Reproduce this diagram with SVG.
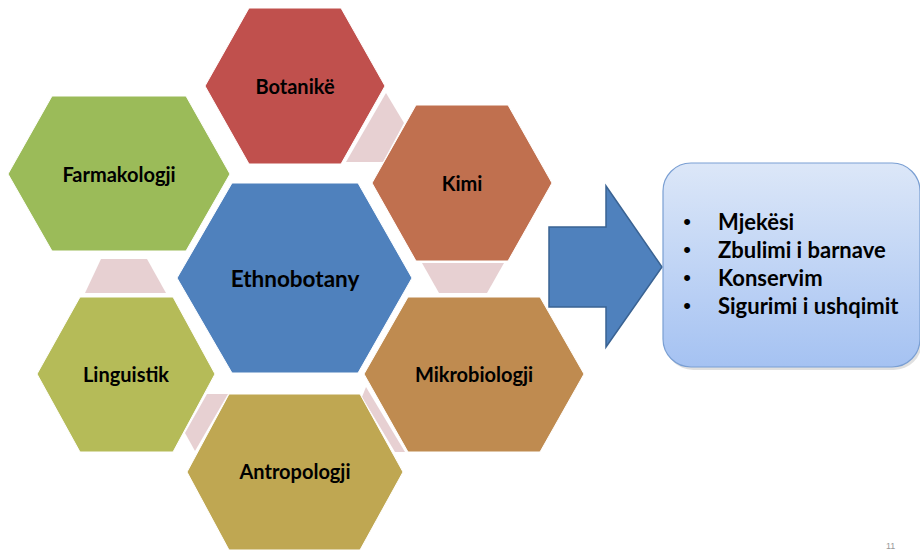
<svg xmlns="http://www.w3.org/2000/svg" width="920" height="550" viewBox="0 0 920 550">
<defs>
<linearGradient id="boxGrad" x1="0" y1="0" x2="0" y2="1">
<stop offset="0" stop-color="#DCE7F8"/>
<stop offset="1" stop-color="#A5C2F2"/>
</linearGradient>
</defs>
<style>
.lbl{font-family:Lato,"Liberation Sans",sans-serif;font-weight:bold;font-size:20px;fill:#000;text-anchor:middle;dominant-baseline:central}
.big{font-size:22.5px}
.conn{fill:#E7D0D2}
.hex{stroke:#fff;stroke-width:1}
.item{font-family:Lato,"Liberation Sans",sans-serif;font-weight:bold;font-size:22px;fill:#000}
.bul{font-family:"Liberation Sans",sans-serif;font-size:22px;fill:#000;text-anchor:middle}
</style>
<rect width="920" height="550" fill="#fff"/>
<g id="connectors">
<polygon class="conn" points="386,93 404,123 383,162 346,162"/>
<polygon class="conn" points="422,263 504,263 487,293 439,293"/>
<polygon class="conn" points="101,259 147,259 166,293 85,293"/>
<polygon class="conn" points="207,394 228,394 195,451 185,433"/>
<polygon class="conn" points="366,387 405,452 395,452 362,397"/>
<polygon id="arrow" points="549,227 606,227 606,186 662,267 606,347 606,307 549,307" fill="#4F81BD" stroke="#3A6393" stroke-width="1.5"/>
</g>
<g id="botanike">
<polygon class="hex" fill="#C0504D" points="249,8 341,8 385,86 341,164 249,164 205,86"/>
<text class="lbl" x="295" y="86">Botanikë</text>
</g>
<g id="farmakologji">
<polygon class="hex" fill="#9BBB59" points="52,96 186,96 230,174 186,251 52,251 8,174"/>
<text class="lbl" x="119" y="174">Farmakologji</text>
</g>
<g id="kimi">
<polygon class="hex" fill="#C0704F" points="416,105 508,105 552,183 508,261 416,261 372,183"/>
<text class="lbl" x="462" y="183">Kimi</text>
</g>
<g id="ethnobotany">
<polygon class="hex" fill="#4F81BD" points="232,183 358,183 412,278 358,373 232,373 177,278"/>
<text class="lbl big" x="295" y="278">Ethnobotany</text>
</g>
<g id="linguistik">
<polygon class="hex" fill="#B5BB58" points="80,297 173,297 215,374 173,452 80,452 37,374"/>
<text class="lbl" x="126" y="374">Linguistik</text>
</g>
<g id="mikrobiologji">
<polygon class="hex" fill="#BF8B50" points="408,297 540,297 584,374 540,452 408,452 364,374"/>
<text class="lbl" x="474" y="374">Mikrobiologji</text>
</g>
<g id="antropologji">
<polygon class="hex" fill="#BFA752" points="229,394 360,394 403,472 360,550 229,550 187,472"/>
<text class="lbl" x="295" y="471">Antropologji</text>
</g>
<g id="results">
<rect x="665" y="166" width="257" height="204" rx="28" fill="#000" opacity="0.12"/>
<rect x="663" y="163" width="257" height="204" rx="28" fill="url(#boxGrad)" stroke="#7A9FD3" stroke-width="1.2"/>
<text class="bul" x="687" y="229">•</text>
<text class="item" x="718" y="230">Mjekësi</text>
<text class="bul" x="687" y="257">•</text>
<text class="item" x="718" y="258">Zbulimi i barnave</text>
<text class="bul" x="687" y="285">•</text>
<text class="item" x="718" y="286">Konservim</text>
<text class="bul" x="687" y="313">•</text>
<text class="item" x="718" y="314">Sigurimi i ushqimit</text>
</g>
<text x="886" y="549" font-family="'Liberation Sans',sans-serif" font-size="9" fill="#999">11</text>
</svg>
